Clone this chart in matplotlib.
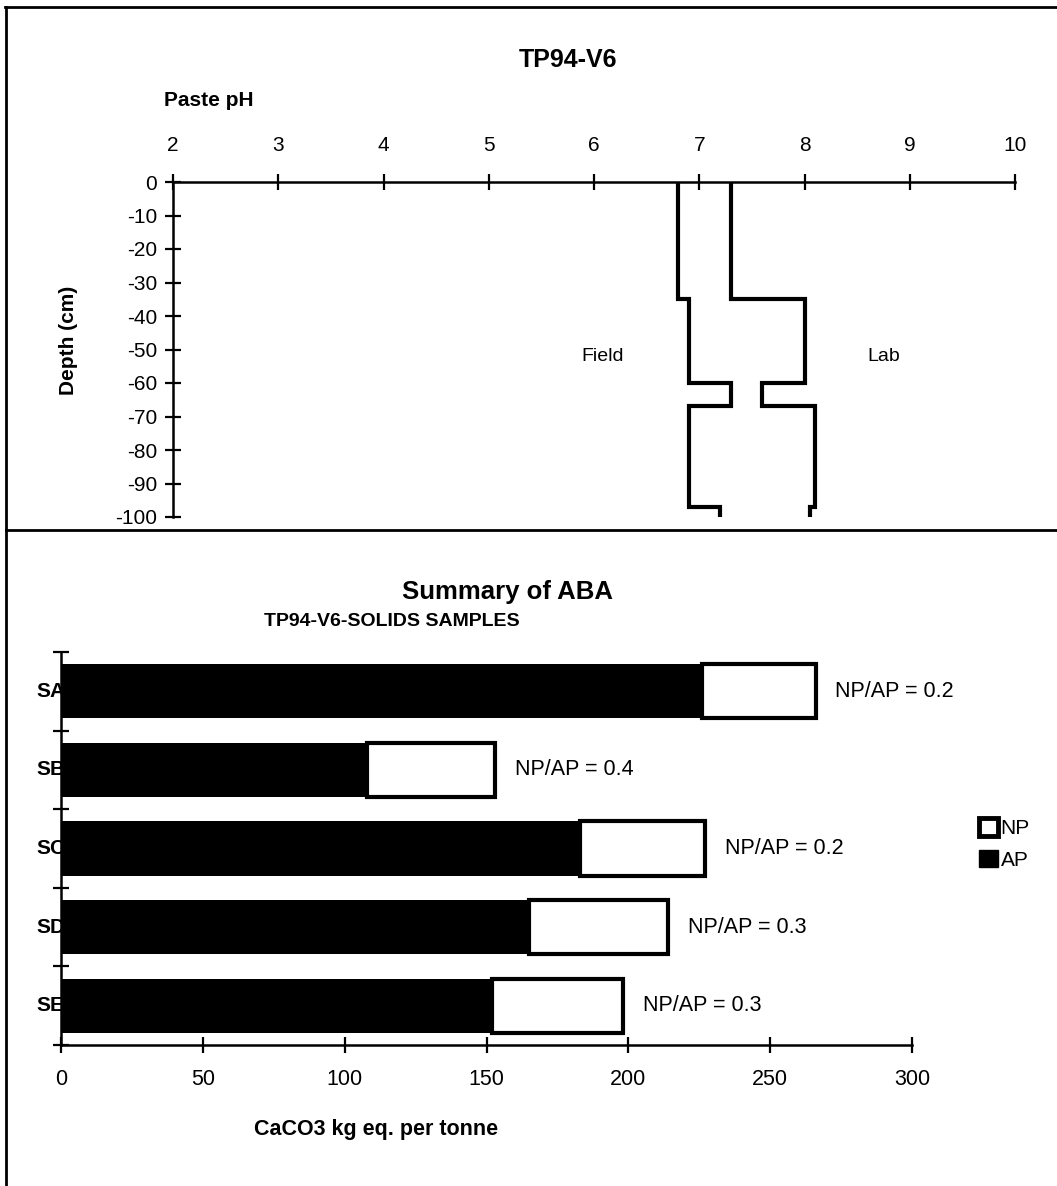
import matplotlib
matplotlib.use('Agg')
import matplotlib.pyplot as plt
from matplotlib.lines import Line2D
from matplotlib.patches import Patch
import matplotlib.transforms as mtransforms

plt.rcParams['font.family'] = ['Liberation Sans', 'DejaVu Sans']
plt.rcParams['axes.unicode_minus'] = False

# Paste pH profile (step layers)
layer_depth = [0, -35, -60, -67, -97, -100]
field_ph = [6.8, 6.9, 7.3, 6.9, 7.2]
lab_ph = [7.3, 8.0, 7.6, 8.1, 8.05]

# ABA summary
samples = ['SA', 'SB', 'SC', 'SD', 'SE']
ap = [226, 108, 183, 165, 152]
np_vals = [40, 45, 44, 49, 46]
np_ap = [0.2, 0.4, 0.2, 0.3, 0.3]

W, H = 1057, 1186
fig = plt.figure(figsize=(W / 100, H / 100), dpi=100)


def fx(px):
    return px / W


def fy(py):
    return 1 - py / H


def step_profile(ph):
    xs, ys = [], []
    for i, p in enumerate(ph):
        xs += [p, p]
        ys += [layer_depth[i], layer_depth[i + 1]]
    return xs, ys


# ---- top panel: pH vs depth ----
ax1 = fig.add_axes([fx(173), fy(517), fx(1015) - fx(173), fy(182) - fy(517)])
for ph in (field_ph, lab_ph):
    xs, ys = step_profile(ph)
    ax1.plot(xs, ys, color='black', lw=3, solid_joinstyle='miter')
ax1.set_xlim(2, 10)
ax1.set_ylim(-100, 0)
ax1.xaxis.tick_top()
ax1.set_xticks(range(2, 11))
ax1.set_yticks(range(-100, 1, 10))
for s in ('right', 'bottom'):
    ax1.spines[s].set_visible(False)
for s in ('top', 'left'):
    ax1.spines[s].set_linewidth(1.8)
ax1.tick_params(axis='both', direction='inout', length=11, width=1.6, labelsize=15)
ax1.tick_params(axis='x', pad=14)
ax1.tick_params(axis='y', pad=6)
ax1.text(6.08, -52, 'Field', fontsize=14, ha='center', va='center')
ax1.text(8.75, -52, 'Lab', fontsize=14, ha='center', va='center')

fig.text(fx(568), fy(60), 'TP94-V6', fontsize=18, fontweight='bold', ha='center', va='center')
fig.text(fx(164), fy(100), 'Paste pH', fontsize=15, fontweight='bold', ha='left', va='center')
fig.text(fx(68), fy(340), 'Depth (cm)', fontsize=15, fontweight='bold', rotation=90,
         ha='center', va='center')

# ---- bottom panel: ABA bars ----
ax2 = fig.add_axes([fx(61), fy(1045), fx(912) - fx(61), fy(652) - fy(1045)])
ypos = list(range(len(samples)))
ax2.barh(ypos, ap, height=0.69, color='black', zorder=3, label='AP')
ax2.barh(ypos, np_vals, left=ap, height=0.69, color='white', edgecolor='black',
         linewidth=3, zorder=3, label='NP')
for i in ypos:
    tot = ap[i] + np_vals[i]
    ax2.text(tot + 7, i, f'NP/AP = {np_ap[i]}', fontsize=15.5, va='center', ha='left')

trans = mtransforms.blended_transform_factory(ax2.transAxes, ax2.transData)
for i, s in enumerate(samples):
    ax2.text(-0.029, i, s, transform=trans, fontsize=15, fontweight='bold',
             ha='left', va='center', zorder=1)

ax2.set_xlim(0, 300)
ax2.set_ylim(len(samples) - 0.5, -0.5)
ax2.set_xticks(range(0, 301, 50))
ax2.set_yticks([i - 0.5 for i in range(len(samples) + 1)])
ax2.set_yticklabels([])
for s in ('right', 'top'):
    ax2.spines[s].set_visible(False)
for s in ('bottom', 'left'):
    ax2.spines[s].set_linewidth(1.8)
ax2.tick_params(axis='both', direction='inout', length=12, width=1.6, labelsize=15.5)
ax2.tick_params(axis='x', pad=11)

handles = [Patch(facecolor='white', edgecolor='black', linewidth=3.5),
           Patch(facecolor='black', edgecolor='black')]
fig.legend(handles, ['NP', 'AP'], loc='center left', bbox_to_anchor=(fx(960), fy(844)),
           frameon=False, fontsize=15, handlelength=0.9, handleheight=0.9,
           handletextpad=0.15, labelspacing=0.55)

fig.text(fx(508), fy(592), 'Summary of ABA', fontsize=18.5, fontweight='bold',
         ha='center', va='center')
fig.text(fx(392), fy(621), 'TP94-V6-SOLIDS SAMPLES', fontsize=14, fontweight='bold',
         ha='center', va='center')
fig.text(fx(376), fy(1130), 'CaCO3 kg eq. per tonne', fontsize=15.5, fontweight='bold',
         ha='center', va='center')

# panel borders
fig.add_artist(Line2D([fx(5), 1], [fy(7), fy(7)], color='black', lw=2))
fig.add_artist(Line2D([fx(6), fx(6)], [0, fy(7)], color='black', lw=2))
fig.add_artist(Line2D([fx(6), 1], [fy(530), fy(530)], color='black', lw=2))

fig.savefig('out.png', dpi=100)
plt.close(fig)
